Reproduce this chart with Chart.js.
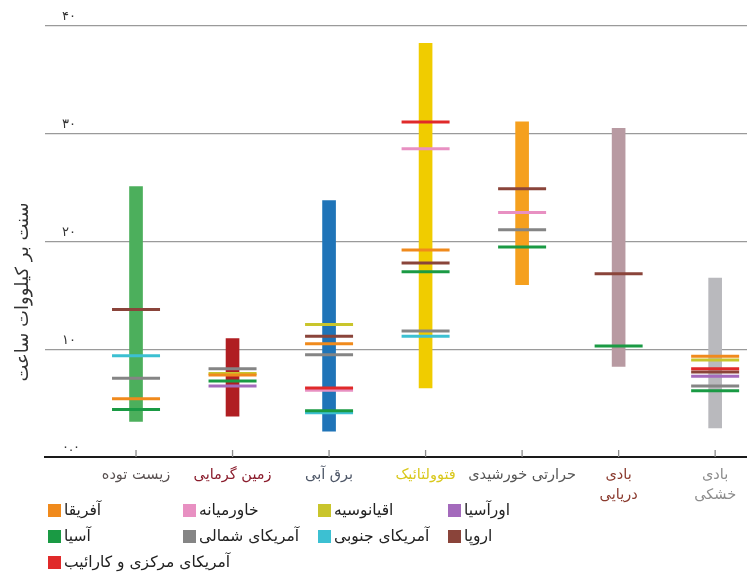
<!DOCTYPE html>
<html lang="fa">
<head>
<meta charset="utf-8">
<script src="https://cdn.jsdelivr.net/npm/chart.js@4"></script>
<style>
  html, body { margin: 0; background: #fff; overflow: hidden; }
  #wrap { position: relative; width: 747px; height: 586px; }
  #chart { display: block; }
  #legend { position: absolute; left: 0; top: 0; width: 747px; height: 586px; pointer-events: none; }
  .item { position: absolute; display: flex; align-items: center; font: 15.5px "DejaVu Sans", sans-serif; color: #222; white-space: nowrap; }
  .item .box { width: 13px; height: 13px; margin-right: 3px; }
  .item .txt { direction: rtl; }
</style>
</head>
<body>
<div id="wrap">
  <canvas id="chart" width="747" height="586"></canvas>
  <div id="legend"></div>
</div>
<script>
// --- data ---
const categories = ['زیست توده', 'زمین گرمایی', 'برق آبی', 'فتوولتائیک', 'حرارتی خورشیدی', ['بادی', 'دریایی'], ['بادی', 'خشکی']];
const categoryColors = ['#5a5252', '#8a1c2c', '#4c5566', '#d9c81c', '#555555', '#8a3a2e', '#8c8c8c'];

// range of each technology (low, high)
const rangeLow  = [3.3, 3.8, 2.4, 6.4, 16.0, 8.4, 2.7];
const rangeHigh = [25.1, 11.0, 23.8, 38.4, 31.1, 30.5, 16.6];
const rangeColors = ['#4caf5c', '#b01e22', '#1f74b8', '#f0cc00', '#f5a01e', '#b89aa2', '#b9b9bd'];

// regional averages per technology (null = none)
const regions = ['آفریقا', 'آسیا', 'آمریکای مرکزی و کارائیب', 'خاورمیانه', 'آمریکای شمالی', 'اقیانوسیه', 'آمریکای جنوبی', 'اورآسیا', 'اروپا'];
const regionColors = ['#f08a1c', '#1a9a44', '#e02a2a', '#e890c2', '#858585', '#c9c52c', '#3cc0d2', '#a46abc', '#8a443a'];
const africa       = [5.4, 7.6, 10.5, 19.2, null, null, 9.35];
const asia         = [4.4, 7.05, 4.3, 17.2, 19.5, 10.3, 6.15];
const centralAm    = [null, null, 6.4, 31.1, null, null, 8.2];
const middleEast   = [null, null, 6.2, 28.6, 22.7, null, null];
const northAm      = [7.3, 8.2, 9.5, 11.7, 21.1, null, 6.6];
const oceania      = [null, 7.75, 12.3, null, null, null, 9.0];
const southAm      = [9.4, null, 4.1, 11.2, null, null, null];
const eurasia      = [null, 6.6, null, null, null, null, 7.5];
const europe       = [13.7, null, 11.2, 18.0, 24.9, 17.0, 7.9];
const regionValues = [africa, asia, centralAm, middleEast, northAm, oceania, southAm, eurasia, europe];

const yTicks = [0, 10, 20, 30, 40];
const yTickLabels = ['۰.۰', '۱۰', '۲۰', '۳۰', '۴۰'];
const yTitle = 'سنت بر کیلووات ساعت';

// legend grid: [column, row] for each region
const legendSlots = [[0, 0], [0, 1], [0, 2], [1, 0], [1, 1], [2, 0], [2, 1], [3, 0], [3, 1]];

const FONT = '"DejaVu Sans", sans-serif';

// --- datasets ---
const barSet = {
  type: 'bar',
  data: categories.map((c, i) => ({ x: i, y: [rangeLow[i], rangeHigh[i]] })),
  backgroundColor: rangeColors,
  barThickness: 13,
  order: 10
};

const markerSets = regions.map((name, r) => ({
  type: 'scatter',
  label: name,
  data: regionValues[r].map((v, i) => v === null ? null : { x: i, y: v }).filter(p => p),
  pointStyle: 'line',
  pointRadius: 24,
  pointHoverRadius: 24,
  pointBorderWidth: 3,
  pointBorderColor: regionColors[r],
  borderColor: regionColors[r],
  order: 1
}));

// small upward ticks on the x axis and the rotated y title
const axisExtras = {
  id: 'axisExtras',
  afterDraw(chart) {
    const { ctx, chartArea, scales } = chart;
    ctx.save();
    ctx.strokeStyle = '#8c8c8c';
    ctx.lineWidth = 1.3;
    categories.forEach((c, i) => {
      const x = scales.x.getPixelForValue(i);
      ctx.beginPath();
      ctx.moveTo(x, chartArea.bottom);
      ctx.lineTo(x, chartArea.bottom - 7);
      ctx.stroke();
    });
    ctx.translate(23, 292);
    ctx.rotate(-Math.PI / 2);
    ctx.fillStyle = '#333';
    ctx.font = '18px ' + FONT;
    ctx.textAlign = 'center';
    ctx.textBaseline = 'middle';
    ctx.fillText(yTitle, 0, 0);
    ctx.restore();
  }
};

new Chart(document.getElementById('chart'), {
  type: 'bar',
  data: { datasets: [barSet, ...markerSets] },
  options: {
    responsive: false,
    animation: false,
    layout: { autoPadding: false, padding: { top: 26, right: 0, bottom: 0, left: 0 } },
    plugins: { legend: { display: false }, tooltip: { enabled: false } },
    scales: {
      x: {
        type: 'linear',
        min: -0.943,
        max: 6.33,
        offset: false,
        afterBuildTicks: scale => { scale.ticks = categories.map((c, i) => ({ value: i })); },
        afterFit: scale => {
          scale.height = 129;
          scale.paddingLeft = 0;
          scale.paddingRight = 0;
        },
        grid: { display: false },
        border: { display: true, color: '#1a1a1a', width: 2 },
        ticks: {
          autoSkip: false,
          maxRotation: 0,
          padding: 0,
          font: { family: FONT, size: 14.5, lineHeight: 1.4 },
          color: ctx => categoryColors[ctx.index],
          callback: value => categories[value]
        }
      },
      y: {
        min: 0,
        max: 40,
        afterBuildTicks: scale => { scale.ticks = yTicks.map(v => ({ value: v })); },
        afterFit: scale => { scale.width = 45; },
        grid: { color: '#9a9a9a', lineWidth: 1.3, drawTicks: false },
        border: { display: false },
        ticks: {
          mirror: true,
          padding: 17,
          labelOffset: -9,
          color: '#333',
          font: { family: FONT, size: 13 },
          callback: value => yTickLabels[yTicks.indexOf(value)]
        }
      }
    }
  },
  plugins: [axisExtras]
});

// --- legend ---
const legendEl = document.getElementById('legend');
const colX = [48, 183, 318, 448];
const rowY = [501, 527, 553];
regions.forEach((name, r) => {
  const [col, row] = legendSlots[r];
  const item = document.createElement('div');
  item.className = 'item';
  item.style.left = colX[col] + 'px';
  item.style.top = rowY[row] + 'px';
  item.innerHTML = '<span class="box" style="background:' + regionColors[r] + '"></span><span class="txt">' + name + '</span>';
  legendEl.appendChild(item);
});
</script>
</body>
</html>
